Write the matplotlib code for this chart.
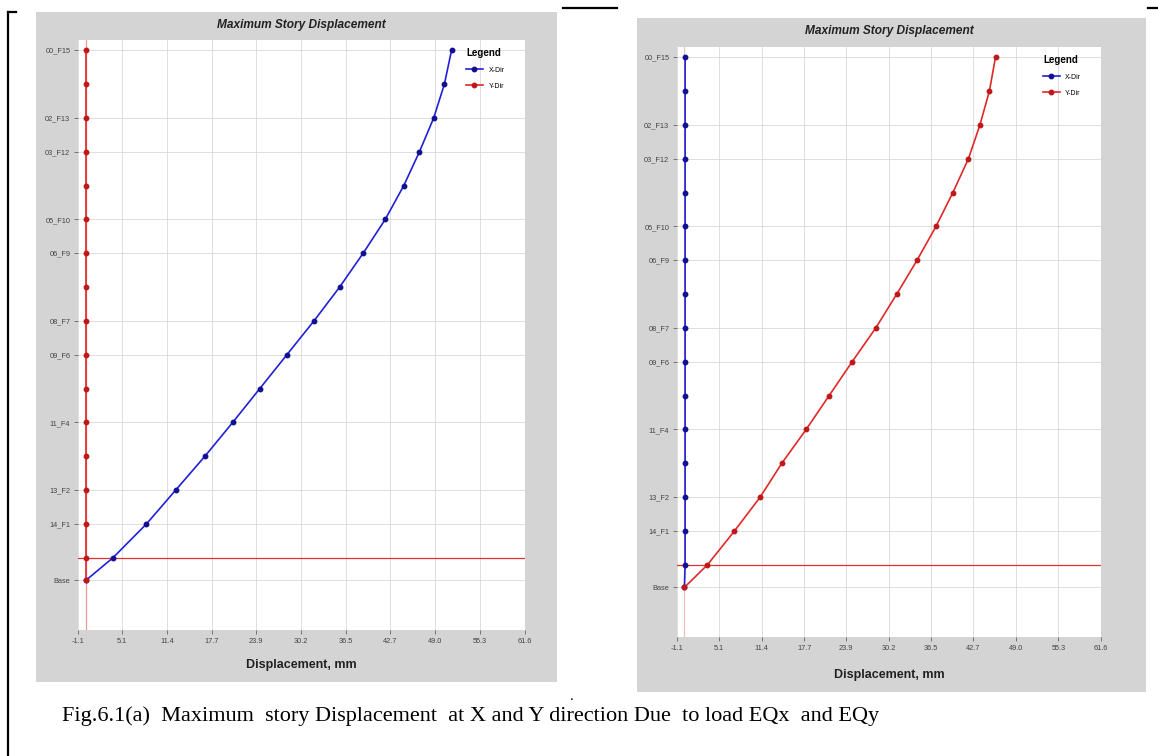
import numpy as np
import matplotlib
matplotlib.use("Agg")
import matplotlib.pyplot as plt
from matplotlib.patches import Rectangle
from matplotlib.lines import Line2D

plt.rcParams["font.family"] = ["Liberation Sans", "DejaVu Sans"]

# story levels (bottom -> top) and their elevations, m
stories = ["Base", "15_F0", "14_F1", "13_F2", "12_F3", "11_F4", "10_F5", "09_F6", "08_F7",
           "07_F8", "06_F9", "05_F10", "04_F11", "03_F12", "02_F13", "01_F14", "00_F15"]
elev = [0, 2, 5, 8, 11, 14, 17, 20, 23, 26, 29, 32, 35, 38, 41, 44, 47]
shown = ["Base", "14_F1", "13_F2", "11_F4", "09_F6", "08_F7", "06_F9", "05_F10",
         "03_F12", "02_F13", "00_F15"]

# displacement, mm  (EQx case, left chart)
eqx_xdir = [0, 3.8, 8.5, 12.6, 16.7, 20.6, 24.4, 28.2, 32.0, 35.6, 38.9, 42.0, 44.6, 46.8, 48.8, 50.3, 51.3]
eqx_ydir = [0, 0, 0, 0, 0, 0, 0, 0, 0, 0, 0, 0, 0, 0, 0, 0, 0]
# EQy case, right chart
eqy_xdir = [0, 0.1, 0.1, 0.1, 0.1, 0.1, 0.1, 0.1, 0.1, 0.1, 0.1, 0.1, 0.1, 0.1, 0.1, 0.1, 0.1]
eqy_ydir = [0, 3.4, 7.4, 11.2, 14.4, 18.0, 21.4, 24.8, 28.3, 31.4, 34.4, 37.2, 39.7, 42.0, 43.7, 45.1, 46.0]

xticks = [-1.1, 5.1, 11.4, 17.7, 23.9, 30.2, 36.5, 42.7, 49.0, 55.3, 61.6]

W, H = 1158, 756
fig = plt.figure(figsize=(W / 100, H / 100), dpi=100)
fig.patch.set_facecolor("white")


def px_rect(x0, y0, x1, y1):
    return [x0 / W, 1 - y1 / H, (x1 - x0) / W, (y1 - y0) / H]


def add_panel(panel, plot, xdir, ydir, cursor_col):
    x0, y0, x1, y1 = panel
    fig.add_artist(Rectangle((x0 / W, 1 - y1 / H), (x1 - x0) / W, (y1 - y0) / H,
                             transform=fig.transFigure, facecolor="#d4d4d4",
                             edgecolor="none", zorder=0))
    ax = fig.add_axes(px_rect(*plot))
    ax.set_facecolor("white")
    for s in ax.spines.values():
        s.set_visible(False)

    ytk = [elev[stories.index(s)] for s in shown]
    ax.set_yticks(ytk)
    ax.set_yticklabels(shown, fontsize=5.3, color="#444444")
    ax.set_xticks(xticks)
    ax.set_xticklabels([f"{v:.1f}" for v in xticks], fontsize=5.3, color="#444444")
    ax.tick_params(length=3, width=0.6, color="#666666", pad=2.5)
    ax.grid(True, color="#d9d9d9", linewidth=0.6)
    ax.set_axisbelow(True)
    ax.set_xlim(-1.1, 61.6)
    ax.set_ylim(-4.4, 47.9)

    # cursor cross-hair at the first level
    ax.axhline(2, color="#e03030", linewidth=0.9, zorder=2)
    ax.axvline(0, color=cursor_col, linewidth=0.9, alpha=0.5, zorder=2)

    ax.plot(xdir, elev, color="#2020d8", linewidth=1.2, marker="o", markersize=3.2,
            markerfacecolor="#101090", markeredgecolor="#101090", zorder=3, label="X-Dir")
    ax.plot(ydir, elev, color="#e02828", linewidth=1.2, marker="o", markersize=3.2,
            markerfacecolor="#c01818", markeredgecolor="#c01818", zorder=3, label="Y-Dir")

    leg = ax.legend(loc="upper right", bbox_to_anchor=(0.965, 0.995), title="Legend",
                    frameon=False, fontsize=5, handlelength=2.4, labelspacing=1.3,
                    borderaxespad=0.3)
    leg.get_title().set_fontsize(7)
    leg.get_title().set_fontweight("bold")
    leg._legend_box.align = "left"

    cx = (plot[0] + plot[2]) / 2
    fig.text(cx / W, 1 - (y0 + 13) / H, "Maximum Story Displacement", ha="center",
             va="center", fontsize=8.6, fontweight="bold", fontstyle="italic", color="#222222")
    fig.text(cx / W, 1 - (y1 - 17) / H, "Displacement, mm", ha="center",
             va="center", fontsize=9, fontweight="bold", color="#222222")
    return ax


add_panel((36, 12, 557, 682), (78, 40, 525, 630), eqx_xdir, eqx_ydir, "#e03030")
add_panel((637, 18, 1146, 692), (677, 47, 1101, 637), eqy_xdir, eqy_ydir, "#e08080")

# page borders
for xs, ys in [([8, 8], [12, 756]), ([8, 16], [12, 12]), ([563, 617], [8, 8]), ([1148, 1158], [8, 8])]:
    fig.add_artist(Line2D([x / W for x in xs], [1 - y / H for y in ys],
                          transform=fig.transFigure, color="black", linewidth=1.6))

fig.text(572 / W, 1 - 700 / H, ".", fontsize=11, family="Liberation Serif", ha="center")
fig.text(62 / W, 1 - 716 / H,
         "Fig.6.1(a)  Maximum  story Displacement  at X and Y direction Due  to load EQx  and EQy",
         fontsize=16, family="Liberation Serif", ha="left", va="center")

fig.savefig("out.png", dpi=100)
